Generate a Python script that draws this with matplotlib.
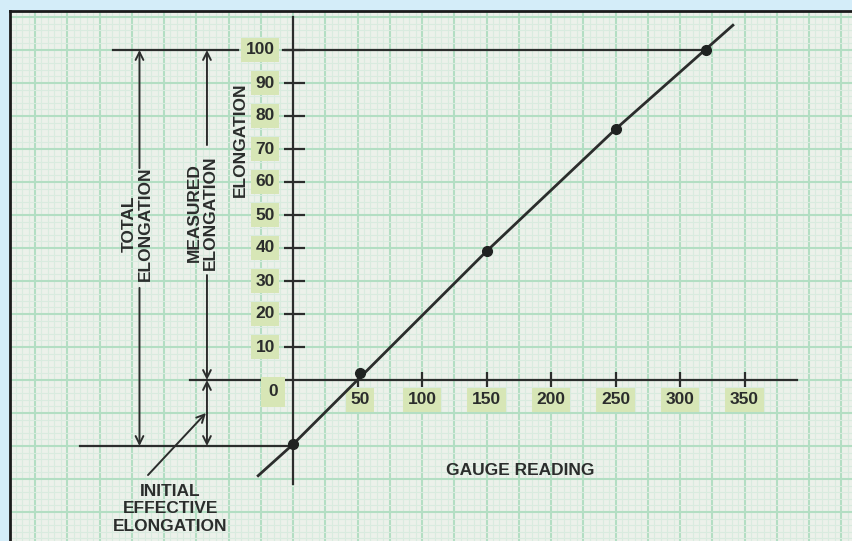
import matplotlib.pyplot as plt
from matplotlib.ticker import MultipleLocator

# values
gauge = [0, 52, 150, 250, 320]
elong = [-19.5, 2, 39, 76, 100]
# hand-drawn calibration line, traced through its bends
fit_x = [-27, 0, 150, 250, 341]
fit_y = [-29, -19.5, 39, 76, 107.5]
x_ticks = [50, 100, 150, 200, 250, 300, 350]
y_ticks = [10, 20, 30, 40, 50, 60, 70, 80, 90, 100]

INK = '#2b2d2c'
BOX = '#d7e6b6'
plt.rcParams['font.family'] = ['Liberation Sans', 'DejaVu Sans']

fig = plt.figure(figsize=(8.52, 5.41), dpi=100, facecolor='#d4edf9')
# paper area, pixel -> data: x = (px-293)/1.29, y = (380-py)/3.3
ax = fig.add_axes([10 / 852, 0, 842 / 852, 530 / 541])
ax.set_facecolor('#ecf1ea')
ax.set_xlim((10 - 293) / 1.29, (852 - 293) / 1.29)
ax.set_ylim((380 - 541) / 3.3, (380 - 11) / 3.3)

ax.xaxis.set_major_locator(MultipleLocator(25))
ax.xaxis.set_minor_locator(MultipleLocator(5))
ax.yaxis.set_major_locator(MultipleLocator(10))
ax.yaxis.set_minor_locator(MultipleLocator(2))
ax.grid(which='major', color='#b3dec3', lw=1.5)
ax.grid(which='minor', color='#d9ebdf', lw=0.8)
ax.tick_params(which='both', length=0, labelbottom=False, labelleft=False)
ax.set_axisbelow(True)
for s in ['right', 'bottom']:
    ax.spines[s].set_visible(False)
for s in ['top', 'left']:
    ax.spines[s].set_color('#1a1a1a')
    ax.spines[s].set_linewidth(2)

# axes lines
ax.plot([0, 0], [-31.5, 110], color=INK, lw=1.6)
ax.plot([-80, 391], [0, 0], color=INK, lw=1.6)
ax.hlines(y_ticks, -7, 9, color=INK, lw=1.6)
ax.vlines(x_ticks, -2, 2.4, color=INK, lw=1.6)

tfont = dict(fontsize=12.5, fontweight='bold', color=INK)
bbox = dict(boxstyle='square,pad=0.26', fc=BOX, ec='none')
for v in y_ticks:
    ax.text(-14, v, str(v), ha='right', va='center', bbox=bbox, **tfont)
for v in x_ticks:
    ax.text(v + (2 if v == 50 else 0), -6, str(v), ha='center', va='center',
            bbox=bbox, **tfont)
ax.text(-15.5, -3.6, '0', ha='center', va='center',
        bbox=dict(boxstyle='square,pad=0.42', fc=BOX, ec='none'), **tfont)

# reference lines
ax.plot([-139.5, -42.6], [100, 100], color=INK, lw=1.6)
ax.plot([-7.75, 320], [100, 100], color=INK, lw=1.6)
ax.plot([-165, 0], [-20, -20], color=INK, lw=1.6)

# calibration line and points
ax.plot(fit_x, fit_y, color=INK, lw=2, zorder=5)
ax.plot(gauge, elong, 'o', color='#1f2221', ms=7, zorder=6)

arrow = dict(arrowstyle='->', color=INK, lw=1.4, mutation_scale=14,
             shrinkA=0, shrinkB=0)
# total elongation
ax.annotate('', xy=(-119, 100), xytext=(-119, 64.2), arrowprops=arrow)
ax.annotate('', xy=(-119, -20), xytext=(-119, 27.9), arrowprops=arrow)
# measured elongation
ax.annotate('', xy=(-66.7, 100), xytext=(-66.7, 71.2), arrowprops=arrow)
ax.annotate('', xy=(-66.7, 0), xytext=(-66.7, 31.8), arrowprops=arrow)
# initial effective elongation
ax.annotate('', xy=(-66.7, 0), xytext=(-66.7, -10), arrowprops=arrow)
ax.annotate('', xy=(-66.7, -20), xytext=(-66.7, -10), arrowprops=arrow)
ax.annotate('', xy=(-67.5, -10), xytext=(-112.4, -28.8), arrowprops=arrow)

ax.text(-41, 72.7, 'ELONGATION', rotation=90, ha='center', va='center', **tfont)
ax.text(-70, 50.6, 'MEASURED\nELONGATION', rotation=90, ha='center',
        va='center', linespacing=1.1, **tfont)
ax.text(-120.5, 47.3, 'TOTAL\nELONGATION', rotation=90, ha='center',
        va='center', linespacing=1.1, **tfont)
ax.text(-95.3, -39, 'INITIAL\nEFFECTIVE\nELONGATION', ha='center',
        va='center', linespacing=1.2, **tfont)
ax.text(176, -27.3, 'GAUGE READING', ha='center', va='center', **tfont)

fig.savefig('out.png', dpi=100, facecolor=fig.get_facecolor())
